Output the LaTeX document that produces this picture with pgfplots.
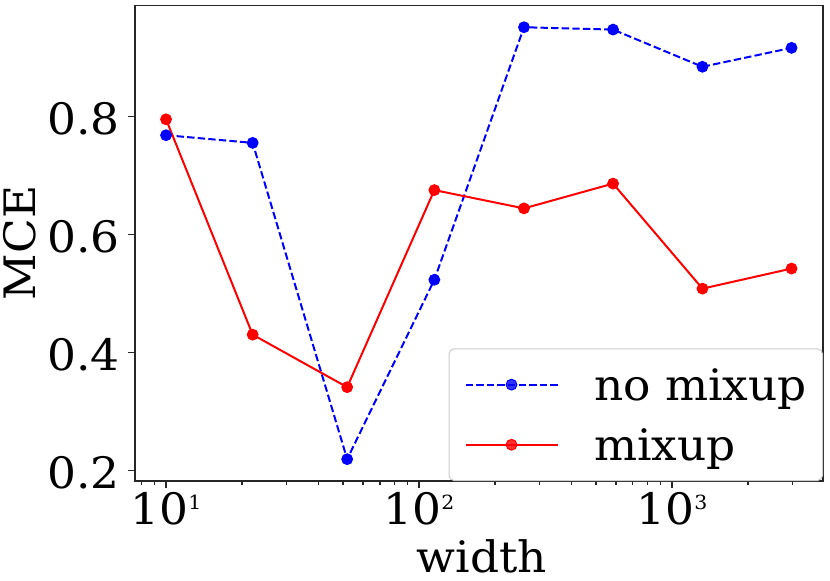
\documentclass[border=0pt]{standalone}
\usepackage{fontspec}
\setmainfont{DejaVu Serif}[FakeStretch=1.05]
\usepackage{pgfplots}
\pgfplotsset{compat=1.18}
\newcommand\bigf{\fontsize{43.3}{50}\selectfont}
\newcommand\supn[1]{\raisebox{14.5pt}{\fontsize{19.5}{20}\selectfont #1}}
\begin{document}
\begin{tikzpicture}
\begin{axis}[
  scale only axis, width=688pt, height=475.3pt,
  at={(0,0)}, anchor=south west,
  xmode=log, xmin=7.54, xmax=3955, ymin=0.182, ymax=0.9875,
  xtick={10,100,1000}, xticklabels={10\supn{1},10\supn{2},10\supn{3}},
  minor xtick={8,9,20,30,40,50,60,70,80,90,200,300,400,500,600,700,800,900,2000,3000},
  ytick={0.2,0.4,0.6,0.8}, yticklabels={0.2,0.4,0.6,0.8},
  tick align=outside, xtick pos=left, ytick pos=left,
  major tick length=7pt, minor tick length=3.5pt,
  tick style={black!85, line width=1.4pt},
  axis line style={black!85, line width=1.6pt},
  ticklabel style={font=\bigf, inner sep=0pt},
  xticklabel style={anchor=north, yshift=-3.7pt},
  yticklabel style={anchor=east, xshift=-8pt, yshift=-2.3pt},
  xlabel={width}, ylabel={MCE},
  label style={font=\bigf, inner sep=0pt},
  xlabel style={at={(axis description cs:0.504,-0.1915)}, anchor=base},
  ylabel style={at={(axis description cs:-0.1453,0.5007)}, anchor=base},
  legend cell align=left,
  legend image code/.code={\draw[#1, mark repeat=2, mark phase=2] plot coordinates {(0pt,0pt) (46pt,0pt) (92pt,0pt)};},
  legend style={at={(axis description cs:1,0)}, anchor=south east,
    draw=black!20, line width=1pt, rounded corners=5pt,
    fill=white, fill opacity=0.8, text opacity=1, draw opacity=1,
    inner xsep=15.5pt, inner ysep=18.5pt, row sep=25.6pt, column sep=35.7pt,
    nodes={inner sep=0pt}, font=\bigf},
]
\addplot[blue, line width=2pt, dash pattern=on 7.4pt off 3.2pt,
  mark=*, mark size=5.4pt, mark options={solid, line width=1pt}]
  coordinates {(10,0.768) (22,0.755) (52,0.219) (115,0.523) (260,0.951) (585,0.947) (1320,0.884) (2970,0.916)};
\addlegendentry{\raisebox{0pt}[33pt][4.2pt]{no mixup}}
\addplot[red, line width=2pt,
  mark=*, mark size=5.4pt, mark options={solid, line width=1pt}]
  coordinates {(10,0.795) (22,0.430) (52,0.341) (115,0.675) (260,0.644) (585,0.686) (1320,0.508) (2970,0.542)};
\addlegendentry{\raisebox{0pt}[33pt][4.2pt]{mixup}}
\end{axis}
\pgfresetboundingbox
\path (-135pt,-100pt) rectangle (695pt,481pt);
\end{tikzpicture}
\end{document}
